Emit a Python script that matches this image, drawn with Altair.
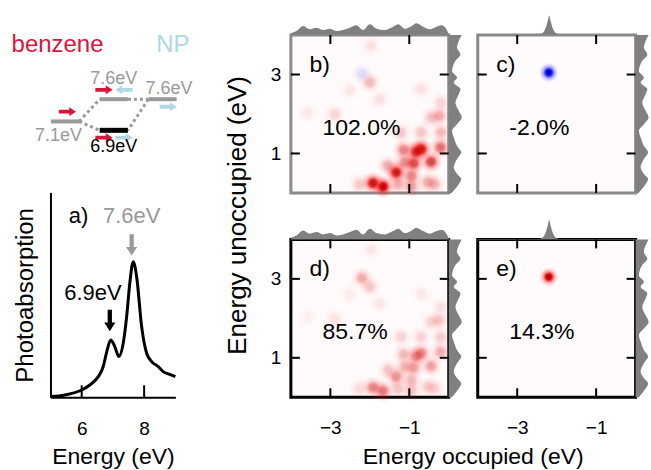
import altair as alt
import pandas as pd

FONT = "Liberation Sans"
RED = "#dc143c"
LBLUE = "#add8e6"
GRAY = "#999999"
MARG = "#808080"
BG = "#fffafb"

# ---------------- panel a) spectrum ----------------
spec_energy = [5.0, 5.47, 6.0, 6.26, 6.53, 6.69, 6.79, 6.93, 7.06, 7.19, 7.33, 7.44,
               7.54, 7.65, 7.76, 7.92, 8.08, 8.24, 8.45, 8.61, 8.82, 9.0]
spec_absorb = [0.005, 0.017, 0.053, 0.09, 0.151, 0.225, 0.322, 0.419, 0.371, 0.298, 0.395,
               0.59, 0.834, 0.993, 0.883, 0.517, 0.322, 0.261, 0.225, 0.188, 0.168, 0.151]
spec_ticks = [6, 8]
peak_energy = [6.9, 7.6]
peak_arrow_level = [0.563, 1.116]
peak_label_energy = [6.36, 7.6]
peak_label_level = [0.761, 1.331]
peak_bright = [True, False]

# ---------------- level diagram ----------------
level_col = [0, 1, 1, 2]
level_energy = [7.1, 7.6, 6.9, 7.6]
level_label = ["7.1eV", "7.6eV", "6.9eV", "7.6eV"]
level_bright = [False, False, True, False]
link_from = [0, 0, 1, 3]
link_to = [1, 2, 3, 2]
arrow_col = [0.05, 0.80, 1.21, 2.12, 0.80, 1.21]
arrow_energy = [7.32, 7.81, 7.81, 7.43, 6.735, 6.735]
arrow_dir = ["right", "right", "left", "right", "right", "right"]
arrow_src = ["benzene", "benzene", "NP", "NP", "benzene", "NP"]
header_text = ["benzene", "NP"]
header_col = [-0.154, 2.215]
header_energy = [8.81, 8.81]

# ---------------- transition maps ----------------
blob_occ = [-1.67, -1.92, -1.33, -0.89, -0.70, -0.83, -0.45, -0.21, -1.14, -0.95, -0.95, -0.53,
            -2.26, -2.00, -2.89, -0.24, -0.45, -0.20, -1.97, -1.21, -0.70, -0.20, -1.12, -1.54,
            -1.29, -0.36, -1.75, -2.50, -3.57, -0.70, -2.20]
blob_unocc = [0.16, 0.25, 0.52, 0.75, 1.11, 1.04, 0.79, 1.15, 1.09, 0.43, 0.16, 0.27,
              0.22, 2.80, 1.99, 1.95, 1.91, 2.29, 3.73, 1.53, 1.53, 1.53, 0.77, 0.69,
              0.22, 0.22, 2.37, 2.60, 2.04, 2.63, 3.02]
weight_b = [1.0, 0.9, 0.9, 0.7, 0.95, 0.8, 0.7, 0.55, 0.45, 0.45, 0.35, 0.3,
            0.2, 0.25, 0.15, 0.3, 0.2, 0.15, 0.1, 0.2, 0.2, 0.25, 0.4, 0.3,
            0.3, 0.25, 0.1, 0.08, 0.07, 0.1, -0.12]
weight_d = [0.5, 0.45, 0.4, 0.35, 0.45, 0.4, 0.35, 0.3, 0.25, 0.25, 0.2, 0.18,
            0.12, 0.2, 0.1, 0.2, 0.15, 0.1, 0.08, 0.15, 0.15, 0.18, 0.25, 0.2,
            0.2, 0.15, 0.08, 0.06, 0.05, 0.08, 0.3]
single_occ = [-2.2]
single_unocc = [3.05]
weight_c = [-1.0]
weight_e = [1.0]

panel_letter = ["b)", "c)", "d)", "e)"]
panel_percent = ["102.0%", "-2.0%", "85.7%", "14.3%"]
occ_ticks = [-3, -1]
unocc_ticks = [1, 3]
OCC_RANGE = [-4, 0]
UNOCC_RANGE = [0, 4]

top_occ = [-4.0, -3.86, -3.69, -3.52, -3.35, -3.18, -3.01, -2.84, -2.68, -2.51, -2.34, -2.17,
           -2.0, -1.83, -1.62, -1.41, -1.28, -1.11, -0.94, -0.82, -0.65, -0.48, -0.31, -0.18,
           -0.06, 0.0]
top_amp = [2.0, 4, 9, 5.7, 7.3, 5, 6.3, 4, 5, 7.3, 9.7, 5, 10.7, 6.3, 5, 8.3, 10.7, 6.3, 9,
           11.7, 8.3, 5.7, 8.3, 9.7, 5.7, 1.0]
peak_occ = [-4.0, -2.5, -2.4, -2.33, -2.27, -2.22, -2.19, -2.16, -2.11, -2.05, -1.98, -1.88, 0.0]
peak_amp = [0.3, 0.3, 1, 3, 8, 15, 19.6, 15, 8, 3, 1, 0.3, 0.3]
right_unocc = [0.0, 0.06, 0.22, 0.35, 0.48, 0.65, 0.86, 1.03, 1.19, 1.41, 1.57, 1.74, 1.91,
               2.08, 2.29, 2.50, 2.63, 2.80, 2.92, 3.09, 3.35, 3.51, 3.68, 3.85, 4.0]
right_amp = [3, 5, 10, 12.5, 8.3, 5, 8.3, 12.5, 8.3, 5, 3.3, 8.3, 13,
             10, 6.7, 10, 11.7, 5, 8.3, 3.3, 6.7, 11.7, 8.3, 10, 13]

MARG_SCALE = 1 / 39.5   # marginal amplitude -> eV units
HALF = 0.29             # half width of a level bar (diagram units)

RIGHT_ARROW = "M-1,-0.22L0.2,-0.22L0.2,-0.5L1,0L0.2,0.5L0.2,0.22L-1,0.22Z"
LEFT_ARROW = "M1,-0.22L-0.2,-0.22L-0.2,-0.5L-1,0L-0.2,0.5L-0.2,0.22L1,0.22Z"
DOWN_ARROW = "M-0.2,-1L0.2,-1L0.2,0.2L0.52,0.2L0,1L-0.52,0.2L-0.2,0.2Z"
TICK_UP = "M0,0L0,-1"
TICK_DOWN = "M0,0L0,1"
TICK_RIGHT = "M0,0L1,0"
TICK_LEFT = "M0,0L-1,0"

RED_GRAD = {"gradient": "radial", "stops": [
    {"offset": 0, "color": "#a00000"},
    {"offset": 0.3, "color": "rgba(215,0,0,0.95)"},
    {"offset": 0.62, "color": "rgba(255,50,50,0.35)"},
    {"offset": 1, "color": "rgba(255,110,110,0)"}]}
BLUE_GRAD = {"gradient": "radial", "stops": [
    {"offset": 0, "color": "#0000a0"},
    {"offset": 0.3, "color": "rgba(0,0,230,0.95)"},
    {"offset": 0.62, "color": "rgba(50,50,255,0.35)"},
    {"offset": 1, "color": "rgba(110,110,255,0)"}]}

# ================= diagram =================
dxs = alt.Scale(domain=[-0.2995, 2.2646], nice=False, zero=False)
dys = alt.Scale(domain=[6.5483, 9.0427], nice=False, zero=False)

levels = pd.DataFrame({"col": level_col, "energy": level_energy, "label": level_label,
                       "bright": level_bright})
levels["x1"] = levels["col"] - HALF
levels["x2"] = levels["col"] + HALF

link_rows = []
for a, b in zip(link_from, link_to):
    ca, cb = level_col[a], level_col[b]
    s = 1 if cb > ca else -1
    link_rows.append({"x1": ca + s * HALF, "x2": cb - s * HALF,
                      "y1": level_energy[a], "y2": level_energy[b]})
links = pd.DataFrame(link_rows)

arrows = pd.DataFrame({"col": arrow_col, "energy": arrow_energy, "dir": arrow_dir,
                       "src": arrow_src})
headers = pd.DataFrame({"t": header_text, "col": header_col, "energy": header_energy})


def dpos(xf="col", yf="energy"):
    return dict(x=alt.X(f"{xf}:Q", scale=dxs, axis=None),
                y=alt.Y(f"{yf}:Q", scale=dys, axis=None))


link_layer = alt.Chart(links).mark_rule(color=GRAY, strokeWidth=3, strokeDash=[3, 3]).encode(
    x=alt.X("x1:Q", scale=dxs, axis=None), x2="x2:Q",
    y=alt.Y("y1:Q", scale=dys, axis=None), y2="y2:Q")
bar_gray = alt.Chart(levels[~levels["bright"]]).mark_rule(color=GRAY, strokeWidth=4).encode(
    x=alt.X("x1:Q", scale=dxs, axis=None), x2="x2:Q", y=alt.Y("energy:Q", scale=dys, axis=None))
bar_black = alt.Chart(levels[levels["bright"]]).mark_rule(color="black", strokeWidth=5).encode(
    x=alt.X("x1:Q", scale=dxs, axis=None), x2="x2:Q", y=alt.Y("energy:Q", scale=dys, axis=None))


def arrow_layer(src, direction, color):
    sub = arrows[(arrows["src"] == src) & (arrows["dir"] == direction)]
    shape = RIGHT_ARROW if direction == "right" else LEFT_ARROW
    return alt.Chart(sub).mark_point(filled=True, shape=shape, size=300, opacity=1,
                                     strokeWidth=0, color=color).encode(**dpos())


def header_layer(i, color):
    return alt.Chart(headers.iloc[[i]]).mark_text(fontSize=24, baseline="middle",
                                                  color=color).encode(**dpos(), text="t:N")


def level_text(i, dx, dy, color):
    return alt.Chart(levels.iloc[[i]]).mark_text(fontSize=18, baseline="middle", dx=dx, dy=dy,
                                                 color=color).encode(**dpos(), text="label:N")


diagram = alt.layer(
    link_layer, bar_gray, bar_black,
    arrow_layer("benzene", "right", RED), arrow_layer("NP", "left", LBLUE),
    arrow_layer("NP", "right", LBLUE),
    header_layer(0, RED), header_layer(1, LBLUE),
    level_text(0, -6.5, 14.7, GRAY), level_text(1, 0, -20.7, GRAY),
    level_text(2, 0, 17.0, "black"), level_text(3, 6.5, -10.7, GRAY),
).properties(width=125, height=111)

# ================= spectrum =================
sxs = alt.Scale(domain=[5, 9], nice=False, zero=False)
sys_ = alt.Scale(domain=[0, 1.5], nice=False, zero=False)
spec = pd.DataFrame({"energy": spec_energy, "absorb": spec_absorb})
peaks = pd.DataFrame({"energy": peak_energy, "lvl": peak_arrow_level, "bright": peak_bright,
                      "lx": peak_label_energy, "ly": peak_label_level,
                      "t": [f"{e}eV" for e in peak_energy]})
sticks = pd.DataFrame({"energy": spec_ticks, "base": [0] * len(spec_ticks)})

SPEC_XAXIS = alt.Axis(
    values=spec_ticks, ticks=False, tickSize=0, domain=True, domainColor="black",
    domainWidth=2, grid=False, labelFontSize=19, labelPadding=22.5, labelColor="black",
    title="Energy (eV)", titleFontSize=23, titleFontWeight="normal", titleColor="black",
    titleY=48.3)
SPEC_YAXIS = alt.Axis(
    ticks=False, tickSize=0, labels=False, domain=True, domainColor="black", domainWidth=2,
    grid=False, minExtent=0, title="Photoabsorption", titleFontSize=24,
    titleFontWeight="normal", titleColor="black", titleX=-13.2)


def sx(field):
    return alt.X(f"{field}:Q", scale=sxs, axis=SPEC_XAXIS)


def sy(field):
    return alt.Y(f"{field}:Q", scale=sys_, axis=SPEC_YAXIS)


spec_line = alt.Chart(spec).mark_line(color="black", strokeWidth=3, interpolate="monotone").encode(
    x=sx("energy"), y=sy("absorb"))
spec_tick_marks = alt.Chart(sticks).mark_point(shape=TICK_UP, size=576, filled=False,
                                               strokeWidth=2, color="black", opacity=1).encode(
    x=sx("energy"), y=sy("base"))


def peak_layers(bright, color):
    sub = peaks[peaks["bright"] == bright]
    arr = alt.Chart(sub).mark_point(filled=True, shape=DOWN_ARROW, size=462, opacity=1,
                                    strokeWidth=0, color=color).encode(x=sx("energy"), y=sy("lvl"))
    lab = alt.Chart(sub).mark_text(fontSize=22, baseline="middle", color=color).encode(
        x=sx("lx"), y=sy("ly"), text="t:N")
    return [arr, lab]


spec_letter = alt.Chart(pd.DataFrame({"t": ["a)"], "x": [5.9], "y": [1.331]})).mark_text(
    fontSize=22, baseline="middle", color="black").encode(x=sx("x"), y=sy("y"), text="t:N")

spectrum = alt.layer(spec_line, spec_tick_marks, *peak_layers(True, "black"),
                     *peak_layers(False, GRAY), spec_letter).properties(width=125, height=205)

# ================= map panels =================
pxs = alt.Scale(domain=OCC_RANGE, nice=False, zero=False)
pys = alt.Scale(domain=UNOCC_RANGE, nice=False, zero=False)


def ax_x(show, title):
    if not show:
        return None
    kw = dict(orient="bottom", values=occ_ticks, ticks=False, tickSize=0, domain=False,
              grid=False, labelFontSize=19, labelPadding=21, labelColor="black", title=None)
    if title:
        kw.update(title=title, titleFontSize=23, titleFontWeight="normal", titleColor="black",
                  titleX=182, titleY=48.3)
    return alt.Axis(**kw)


def ax_y(show, title):
    if not show:
        return None
    kw = dict(orient="left", values=unocc_ticks, ticks=False, tickSize=0, domain=False,
              grid=False, minExtent=0, labelFontSize=19, labelPadding=10, labelColor="black",
              title=None)
    if title:
        kw.update(title=title, titleFontSize=26, titleFontWeight="normal", titleColor="black",
                  titleX=-40.2, titleY=180)
    return alt.Axis(**kw)


tick_frames = {
    "bottom": pd.DataFrame({"x": occ_ticks, "y": [UNOCC_RANGE[0]] * 2}),
    "top": pd.DataFrame({"x": occ_ticks, "y": [UNOCC_RANGE[1]] * 2}),
    "left": pd.DataFrame({"x": [OCC_RANGE[0]] * 2, "y": unocc_ticks}),
    "right": pd.DataFrame({"x": [OCC_RANGE[1]] * 2, "y": unocc_ticks}),
}
tick_shapes = {"bottom": TICK_UP, "top": TICK_DOWN, "left": TICK_RIGHT, "right": TICK_LEFT}

top_wavy = pd.DataFrame({"occ": top_occ, "amp": top_amp})
top_peak = pd.DataFrame({"occ": peak_occ, "amp": peak_amp})
right_df = pd.DataFrame({"unocc": right_unocc, "amp": right_amp})
right_df["xr"] = right_df["amp"] * MARG_SCALE


def panel(idx, occ, unocc, weights, top_df, frame, xlab, ylab, xtitle=None, ytitle=None,
          blob_size=530):
    xa = ax_x(xlab, xtitle)
    ya = ax_y(ylab, ytitle)

    def X(field):
        return alt.X(f"{field}:Q", scale=pxs, axis=xa)

    def Y(field):
        return alt.Y(f"{field}:Q", scale=pys, axis=ya)

    blobs = pd.DataFrame({"occ": occ, "unocc": unocc, "w": weights})
    blobs["a"] = blobs["w"].abs()
    layers = []
    for positive, grad in ((True, RED_GRAD), (False, BLUE_GRAD)):
        sub = blobs[(blobs["w"] > 0) == positive]
        if len(sub):
            layers.append(alt.Chart(sub).mark_circle(color=grad, size=blob_size).encode(
                x=X("occ"), y=Y("unocc"),
                opacity=alt.Opacity("a:Q", scale=alt.Scale(domain=[0, 1], range=[0, 1]),
                                    legend=None)))
    tdf = top_df.copy()
    tdf["ytop"] = UNOCC_RANGE[1] + tdf["amp"] * MARG_SCALE
    layers.append(alt.Chart(tdf).mark_area(color=MARG, opacity=1, interpolate="monotone").encode(
        x=X("occ"), y=Y("ytop"), y2=alt.Y2Datum(UNOCC_RANGE[1])))
    layers.append(alt.Chart(right_df).mark_area(color=MARG, opacity=1, orient="horizontal",
                                                interpolate="monotone").encode(
        x=X("xr"), x2=alt.X2Datum(OCC_RANGE[1]), y=Y("unocc")))
    for side, df in tick_frames.items():
        layers.append(alt.Chart(df).mark_point(shape=tick_shapes[side], size=324, filled=False,
                                               strokeWidth=2, color="black", opacity=1).encode(
            x=X("x"), y=Y("y")))
    texts = pd.DataFrame({"t": [panel_letter[idx], panel_percent[idx]],
                          "tx": [-3.53, -3.2], "ty": [3.24, 1.65]})
    layers.append(alt.Chart(texts).mark_text(align="left", baseline="middle", fontSize=23,
                                             color="black").encode(
        x=X("tx"), y=Y("ty"), text="t:N"))
    return alt.layer(*layers).properties(
        width=158, height=158,
        view=alt.ViewBackground(stroke=frame, strokeWidth=3, fill=BG))


pb = panel(0, blob_occ, blob_unocc, weight_b, top_wavy, "#8a8a8a", False, True,
           ytitle="Energy unoccupied (eV)")
pc = panel(1, single_occ, single_unocc, weight_c, top_peak, "#8a8a8a", False, False,
           blob_size=380)
pd_ = panel(2, blob_occ, blob_unocc, weight_d, top_wavy, "black", True, True,
            xtitle="Energy occupied (eV)")
pe = panel(3, single_occ, single_unocc, weight_e, top_peak, "black", True, False,
           blob_size=380)

left = alt.vconcat(diagram, spectrum, spacing=46.5, bounds="flush")
right = alt.ConcatChart(concat=[pb, pc, pd_, pe], columns=2,
                        spacing={"row": 46.5, "column": 29}, bounds="flush")

chart = alt.hconcat(left, right, spacing=240.6, bounds="flush").properties(
    padding={"left": 11.5, "top": 12.9, "right": 0, "bottom": 0}
).configure(font=FONT).configure_view(stroke=None).configure_axis(
    labelFont=FONT, titleFont=FONT)

chart.save("out.html", embed_options={"renderer": "svg", "actions": False})
